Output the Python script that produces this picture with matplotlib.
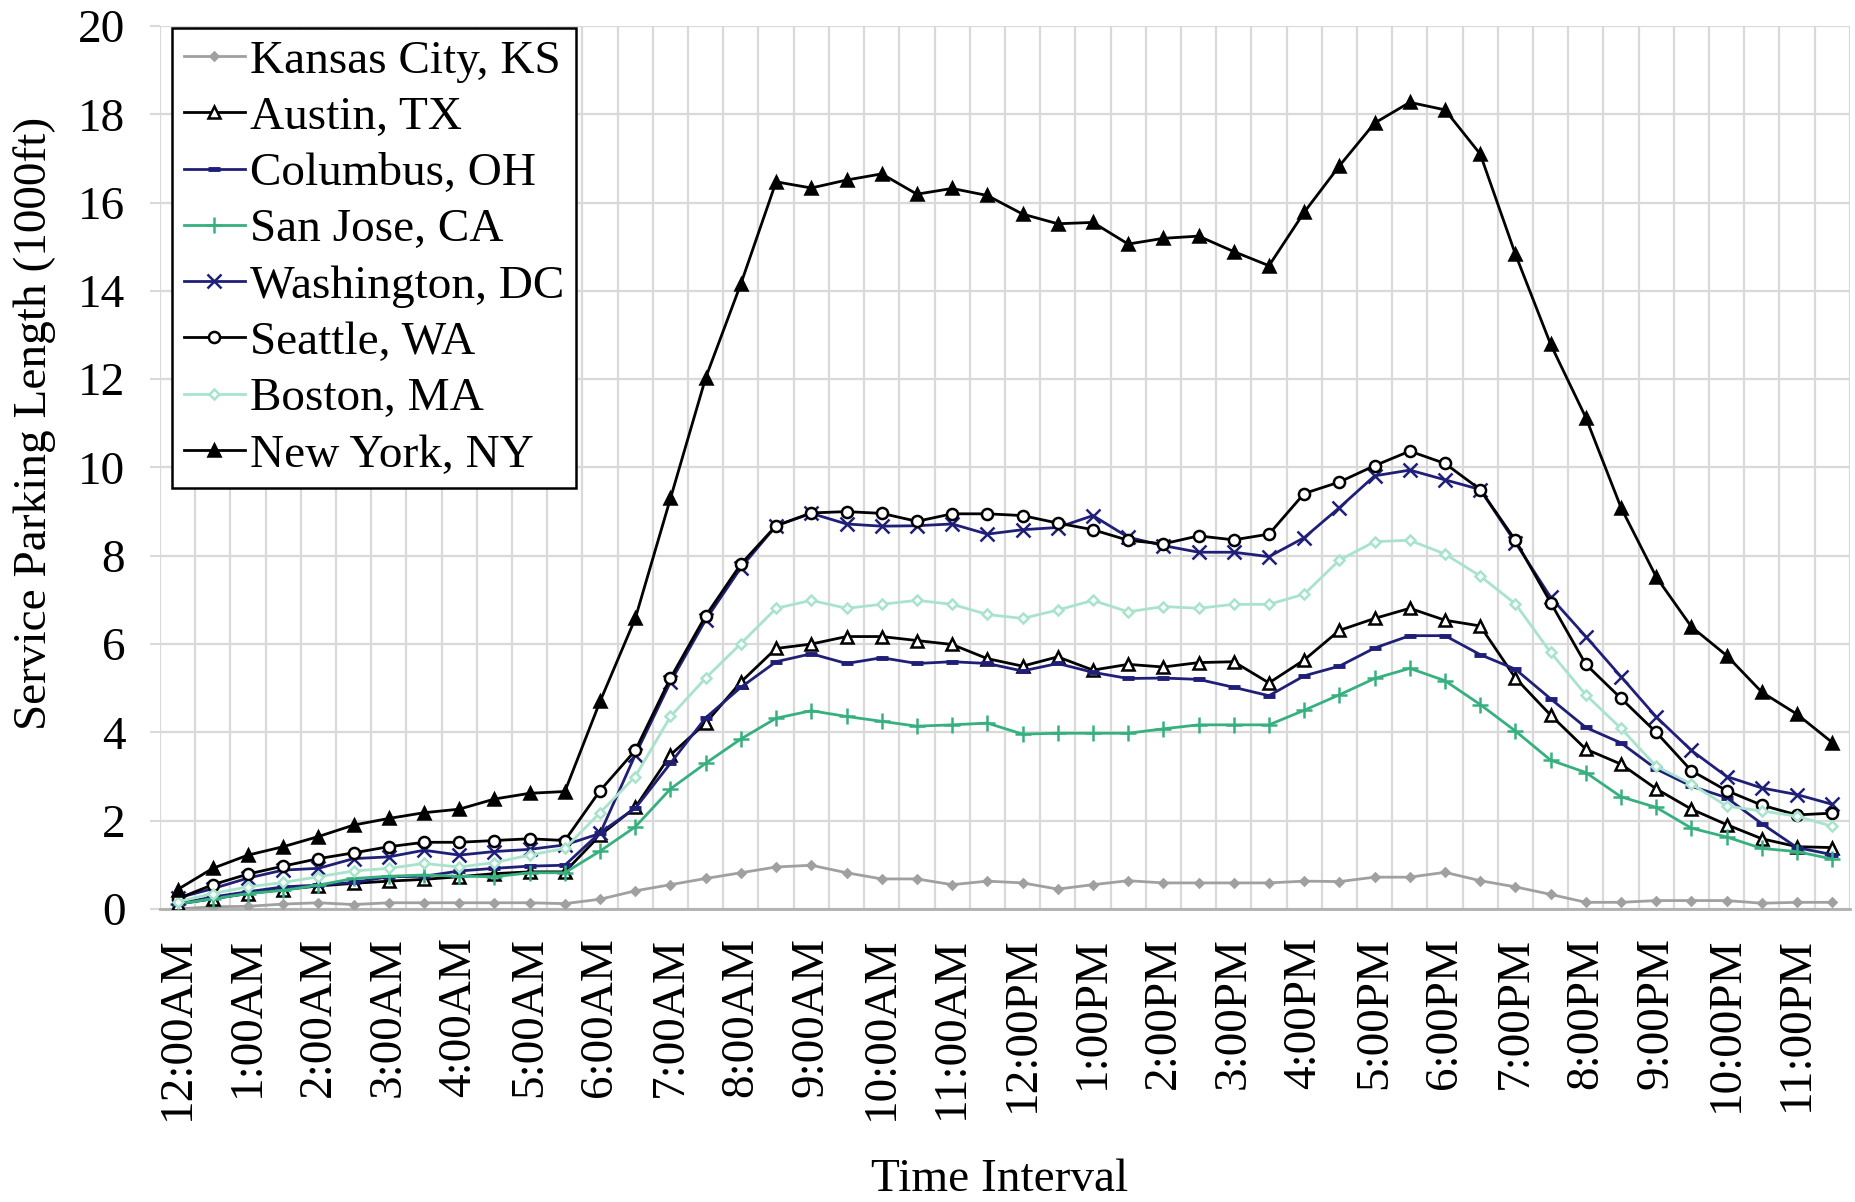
import numpy as np
import matplotlib
matplotlib.use('Agg')
import matplotlib.pyplot as plt
from matplotlib.ticker import MultipleLocator, FixedLocator

plt.rcParams['font.family'] = ['Liberation Serif', 'DejaVu Serif']
fontsz = 34

# half-hour intervals, labelled every hour
hour_labels = ['12:00AM', '1:00AM', '2:00AM', '3:00AM', '4:00AM', '5:00AM',
               '6:00AM', '7:00AM', '8:00AM', '9:00AM', '10:00AM', '11:00AM',
               '12:00PM', '1:00PM', '2:00PM', '3:00PM', '4:00PM', '5:00PM',
               '6:00PM', '7:00PM', '8:00PM', '9:00PM', '10:00PM', '11:00PM']

kansas_city = [0.00, 0.05, 0.06, 0.11, 0.14, 0.10, 0.14, 0.14, 0.14, 0.14, 0.14, 0.12,
               0.22, 0.41, 0.55, 0.69, 0.82, 0.95, 0.99, 0.82, 0.68, 0.68, 0.55, 0.63,
               0.59, 0.45, 0.55, 0.64, 0.59, 0.59, 0.59, 0.59, 0.63, 0.62, 0.72, 0.72,
               0.83, 0.64, 0.50, 0.33, 0.15, 0.15, 0.19, 0.19, 0.19, 0.13, 0.15, 0.15]
austin = [0.11, 0.23, 0.35, 0.44, 0.52, 0.58, 0.63, 0.67, 0.73, 0.80, 0.84, 0.84,
          1.67, 2.30, 3.49, 4.21, 5.14, 5.90, 6.00, 6.17, 6.17, 6.08, 5.99, 5.67,
          5.50, 5.71, 5.41, 5.54, 5.48, 5.58, 5.60, 5.12, 5.64, 6.31, 6.58, 6.81,
          6.54, 6.41, 5.23, 4.39, 3.62, 3.28, 2.72, 2.26, 1.91, 1.59, 1.41, 1.39]
columbus = [0.12, 0.27, 0.39, 0.50, 0.54, 0.60, 0.73, 0.74, 0.86, 0.92, 0.97, 0.99,
            1.73, 2.28, 3.30, 4.33, 5.02, 5.60, 5.78, 5.56, 5.69, 5.56, 5.60, 5.56,
            5.39, 5.56, 5.36, 5.22, 5.23, 5.20, 5.02, 4.83, 5.28, 5.50, 5.91, 6.19,
            6.19, 5.76, 5.43, 4.76, 4.11, 3.76, 3.17, 2.78, 2.52, 1.93, 1.39, 1.23]
san_jose = [0.11, 0.23, 0.35, 0.42, 0.54, 0.69, 0.74, 0.77, 0.74, 0.73, 0.82, 0.82,
            1.31, 1.86, 2.72, 3.30, 3.85, 4.32, 4.49, 4.36, 4.25, 4.14, 4.17, 4.21,
            3.96, 3.98, 3.98, 3.98, 4.08, 4.17, 4.17, 4.17, 4.50, 4.85, 5.22, 5.45,
            5.17, 4.63, 4.03, 3.37, 3.09, 2.54, 2.30, 1.83, 1.63, 1.37, 1.30, 1.13]
washington = [0.25, 0.46, 0.70, 0.88, 0.92, 1.14, 1.18, 1.33, 1.22, 1.30, 1.35, 1.45,
              1.71, 3.49, 5.14, 6.55, 7.73, 8.68, 8.96, 8.72, 8.67, 8.68, 8.72, 8.49,
              8.59, 8.64, 8.91, 8.42, 8.23, 8.08, 8.08, 7.98, 8.41, 9.09, 9.81, 9.94,
              9.72, 9.50, 8.30, 7.06, 6.17, 5.26, 4.35, 3.59, 3.00, 2.74, 2.59, 2.37]
seattle = [0.23, 0.55, 0.79, 0.97, 1.14, 1.27, 1.41, 1.51, 1.51, 1.55, 1.59, 1.55,
           2.68, 3.59, 5.23, 6.64, 7.81, 8.68, 8.97, 9.00, 8.96, 8.78, 8.95, 8.95,
           8.91, 8.74, 8.59, 8.35, 8.27, 8.45, 8.36, 8.49, 9.41, 9.67, 10.04, 10.37,
           10.09, 9.50, 8.35, 6.94, 5.54, 4.77, 4.00, 3.13, 2.68, 2.35, 2.13, 2.17]
boston = [0.16, 0.35, 0.50, 0.60, 0.73, 0.86, 0.92, 1.03, 0.95, 1.05, 1.22, 1.37,
          2.18, 3.00, 4.36, 5.23, 6.01, 6.81, 6.99, 6.81, 6.90, 6.99, 6.90, 6.67,
          6.58, 6.77, 6.99, 6.73, 6.85, 6.81, 6.90, 6.90, 7.13, 7.90, 8.32, 8.35,
          8.04, 7.54, 6.91, 5.81, 4.85, 4.09, 3.23, 2.83, 2.33, 2.22, 2.10, 1.87]
new_york = [0.44, 0.92, 1.22, 1.41, 1.64, 1.90, 2.05, 2.18, 2.26, 2.49, 2.62, 2.66,
            4.70, 6.58, 9.30, 12.03, 14.16, 16.47, 16.33, 16.51, 16.65, 16.19, 16.32, 16.16,
            15.74, 15.52, 15.55, 15.06, 15.19, 15.24, 14.89, 14.57, 15.78, 16.83, 17.80, 18.27,
            18.10, 17.10, 14.83, 12.79, 11.13, 9.09, 7.52, 6.39, 5.74, 4.91, 4.41, 3.77]

navy = '#1f1f78'
series = [
    ('Kansas City, KS', kansas_city, '#a0a0a0', 'D', 4, '#a0a0a0'),
    ('Austin, TX', austin, 'black', '^', 8, 'white'),
    ('Columbus, OH', columbus, navy, '_', 9, navy),
    ('San Jose, CA', san_jose, '#36b07f', '+', 11, '#36b07f'),
    ('Washington, DC', washington, navy, 'x', 10, navy),
    ('Seattle, WA', seattle, 'black', 'o', 8, 'white'),
    ('Boston, MA', boston, '#a8e3cc', 'D', 5.5, 'white'),
    ('New York, NY', new_york, 'black', '^', 8, 'black'),
]

fig = plt.figure(figsize=(18.56, 12.02), dpi=100)
ax = fig.add_axes([0.0862, 0.2438, 0.9105, 0.7346])

x = np.arange(len(new_york))
for name, vals, col, mk, ms, mfc in series:
    mew = 3.5 if mk == '_' else 1.8
    ax.plot(x, vals, color=col, lw=2.0, marker=mk, markersize=ms,
            markerfacecolor=mfc, markeredgecolor=col, markeredgewidth=mew,
            label=name, zorder=3)

ax.set_xlim(-0.5, len(x) - 0.5)
ax.set_ylim(0, 20)
ax.yaxis.set_major_locator(MultipleLocator(2))
ax.set_xticks(np.arange(0, len(x), 2))
ax.set_xticklabels(hour_labels, rotation=90, fontsize=fontsz, va='top', ha='center')
ax.xaxis.set_minor_locator(FixedLocator(np.arange(-0.5, len(x), 1)))
ax.tick_params(axis='x', which='both', length=0, pad=20)
ax.tick_params(axis='y', which='major', length=7, width=1.5, color='#d9d9d9',
               labelsize=fontsz, pad=18)

ax.grid(axis='y', which='major', color='#d9d9d9', lw=1.6, zorder=0)
ax.grid(axis='x', which='minor', color='#d9d9d9', lw=1.6, zorder=0)
ax.set_axisbelow(True)
for s in ['top', 'right', 'left']:
    ax.spines[s].set_visible(False)
ax.spines['bottom'].set_color('#b0b0b0')
ax.spines['bottom'].set_linewidth(2)

ax.set_ylabel('Service Parking Length (1000ft)', fontsize=fontsz, va='center')
ax.yaxis.set_label_coords(-0.074, 0.55)
ax.set_xlabel('Time Interval', fontsize=fontsz, va='center')
ax.xaxis.set_label_coords(0.497, -0.307)

leg = ax.legend(loc='upper left', bbox_to_anchor=(0.007, 0.998), fontsize=fontsz,
                frameon=True, fancybox=False, edgecolor='black', framealpha=1,
                handlelength=1.3, handletextpad=0.1, labelspacing=0.28,
                borderpad=0.25, borderaxespad=0)
leg.get_frame().set_linewidth(1.8)

fig.savefig('out.png', dpi=100)
